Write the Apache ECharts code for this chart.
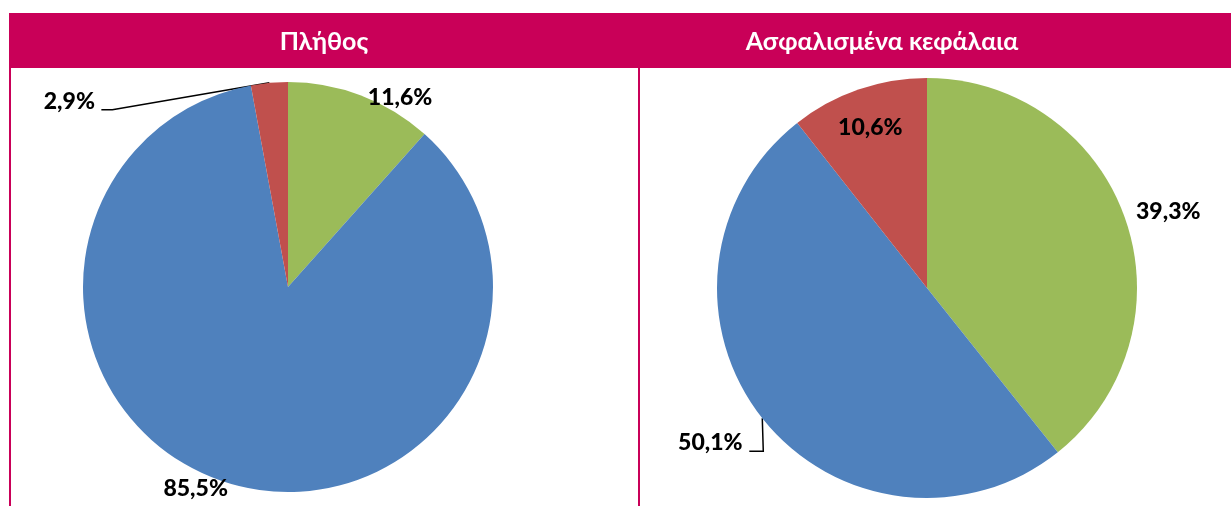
<!DOCTYPE html>
<html>
<head>
<meta charset="utf-8">
<script src="https://cdn.jsdelivr.net/npm/echarts@6/dist/echarts.min.js"></script>
<style>
  html, body { margin: 0; padding: 0; background: #fff; }
  #chart { width: 1231px; height: 506px; }
</style>
</head>
<body>
<div id="chart"></div>
<script>
const titles = ['Πλήθος', 'Ασφαλισμένα κεφάλαια'];
const categories = ['Κατηγορία Α', 'Κατηγορία Β', 'Κατηγορία Γ'];
const countShares = [11.6, 85.5, 2.9];
const capitalShares = [39.3, 50.1, 10.6];

const colors = ['#9BBB59', '#4F81BD', '#C0504D'];
const magenta = '#C90058';
const font = 'Lato, "Open Sans", sans-serif';

const chart = echarts.init(document.getElementById('chart'));

// mid angle (radians, clockwise from 12 o'clock) of slice i
function midAngle(values, i) {
  const total = values.reduce((a, b) => a + b, 0);
  let acc = 0;
  for (let k = 0; k < i; k++) acc += values[k];
  return ((acc + values[i] / 2) / total) * Math.PI * 2;
}

function fmt(v) {
  return v.toFixed(1).replace('.', ',') + '%';
}

// pie settings: center, radius, label offsets from the slice edge, slices with leader lines
const pies = [
  {
    values: countShares, center: [288, 287], radius: 205,
    offsets: [[39, 2], [-37, 4], [-200, 19]],
    lines: { 2: (a, l) => [a, [l[0] + 43, l[1] + 8], [l[0] + 32, l[1] + 8]] }
  },
  {
    values: capitalShares, center: [927, 288], radius: 210,
    offsets: [[43, -7], [-52, 24], [12, 38]],
    lines: { 1: (a, l) => [a, [a[0] + 1, l[1] + 9], [l[0] + 39, l[1] + 9]] }
  }
];

const series = pies.map(function (p) {
  return {
    type: 'pie',
    center: p.center,
    radius: p.radius,
    startAngle: 90,
    clockwise: true,
    avoidLabelOverlap: false,
    silent: true,
    animation: false,
    itemStyle: { borderWidth: 0 },
    label: {
      show: true,
      position: 'outside',
      formatter: (d) => fmt(d.value),
      color: '#000',
      fontFamily: font,
      fontWeight: 900,
      fontSize: 23
    },
    labelLine: { lineStyle: { color: '#000', width: 1.5 } },
    labelLayout: function (params) {
      const i = params.dataIndex;
      const t = midAngle(p.values, i);
      const a = [p.center[0] + p.radius * Math.sin(t), p.center[1] - p.radius * Math.cos(t)];
      const l = [a[0] + p.offsets[i][0], a[1] + p.offsets[i][1]];
      const out = { x: l[0], y: l[1], align: 'center', verticalAlign: 'middle' };
      if (p.lines[i]) out.labelLinePoints = p.lines[i](a, l);
      return out;
    },
    data: p.values.map((v, i) => ({
      name: categories[i],
      value: v,
      itemStyle: { color: colors[i] },
      labelLine: { show: !!p.lines[i] }
    }))
  };
});

const option = {
  backgroundColor: '#fff',
  title: [
    { text: titles[0], left: 324, top: 42 },
    { text: titles[1], left: 882, top: 42 }
  ].map((t) => Object.assign(t, {
    textAlign: 'center',
    textVerticalAlign: 'middle',
    padding: 0,
    textStyle: { color: '#fff', fontFamily: font, fontWeight: 'bold', fontSize: 25 }
  })),
  graphic: [
    { type: 'rect', shape: { x: 9, y: 13, width: 1222, height: 55 }, style: { fill: magenta }, z: -1 },
    { type: 'rect', shape: { x: 9, y: 68, width: 2, height: 438 }, style: { fill: magenta } },
    { type: 'rect', shape: { x: 638, y: 68, width: 2, height: 438 }, style: { fill: magenta } }
  ],
  series: series
};

chart.setOption(option);
</script>
</body>
</html>
